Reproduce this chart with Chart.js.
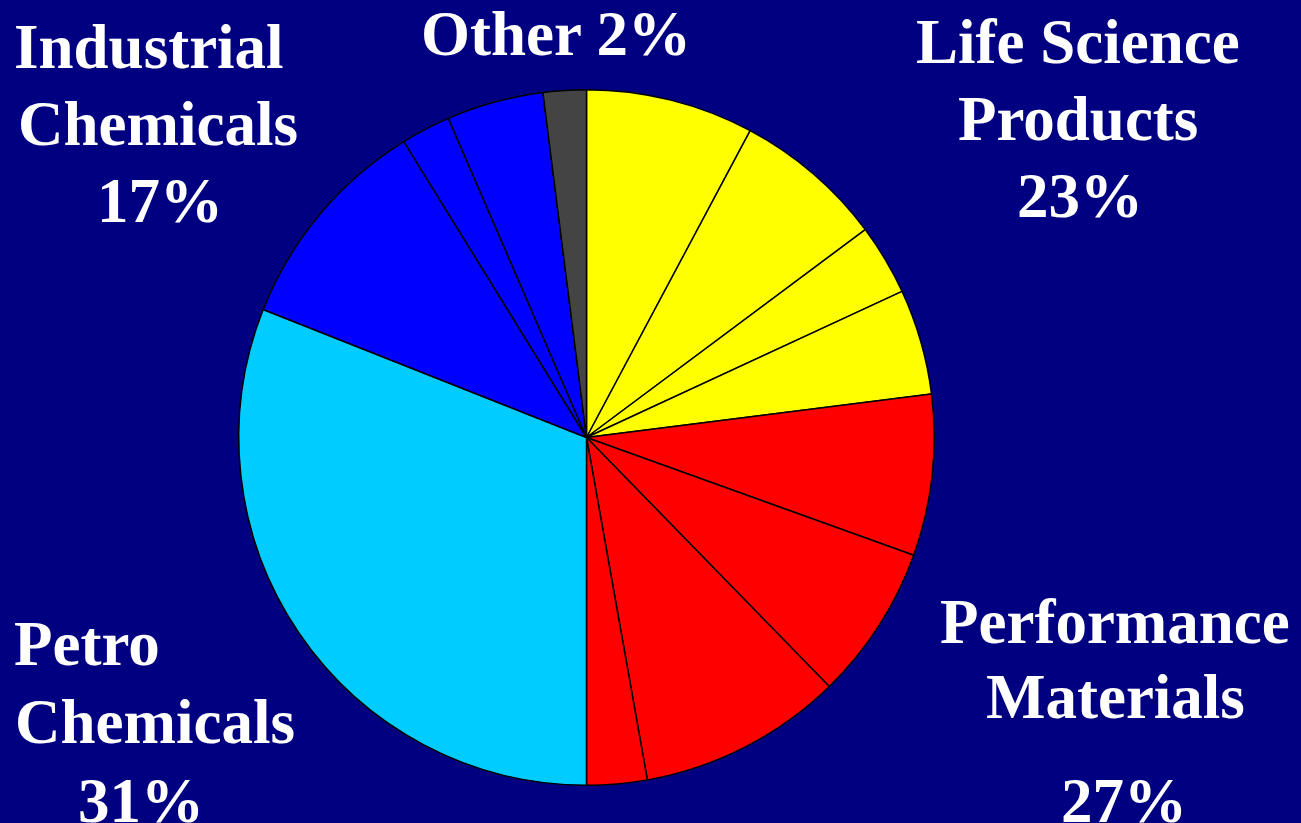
<!DOCTYPE html>
<html>
<head>
<meta charset="utf-8">
<script src="https://cdn.jsdelivr.net/npm/chart.js@4/dist/chart.umd.min.js"></script>
<style>
  body { margin: 0; background: #000080; }
  #wrap { position: relative; width: 1301px; height: 823px; overflow: hidden; }
  #pie { position: absolute; left: 0; top: 0; }
  #labels { position: absolute; left: 0; top: 0; }
  #labels text { font-family: "Liberation Serif", "Times New Roman", serif; font-weight: bold; font-size: 63px; fill: #fff; }
</style>
</head>
<body>
<div id="wrap">
  <canvas id="pie" width="1301" height="823"></canvas>
  <svg id="labels" width="1301" height="823"></svg>
</div>
<script>
// slices clockwise from 12 o'clock (percent)
var sliceGroups = ['Life Science', 'Life Science', 'Life Science', 'Life Science',
  'Performance', 'Performance', 'Performance', 'Performance',
  'Petro', 'Industrial', 'Industrial', 'Industrial', 'Other'];
var sliceValues = [7.8, 7.0, 3.3, 4.9, 7.5, 7.2, 9.5, 2.8, 31.0, 10.2, 2.3, 4.5, 2.0];

var groupNames = ['Life Science', 'Performance', 'Petro', 'Industrial', 'Other'];
var groupColors = ['#ffff00', '#ff0000', '#00ccff', '#0000ff', '#444444'];

// label lines: text, left x, baseline y
var labelLines = [
  ['Industrial', 14, 68], ['Chemicals', 18, 145], ['17%', 97, 222],
  ['Other 2%', 421, 55],
  ['Life Science', 916, 63], ['Products', 958, 140], ['23%', 1017, 217],
  ['Performance', 940, 643], ['Materials', 986, 718], ['27%', 1061, 822],
  ['Petro', 14, 665], ['Chemicals', 15, 743], ['31%', 78, 822]
];

function sliceColors() {
  var out = [];
  for (var i = 0; i < sliceGroups.length; i++) {
    out.push(groupColors[groupNames.indexOf(sliceGroups[i])]);
  }
  return out;
}

function drawLabels() {
  var svg = document.getElementById('labels');
  var ns = 'http://www.w3.org/2000/svg';
  for (var i = 0; i < labelLines.length; i++) {
    var t = document.createElementNS(ns, 'text');
    t.setAttribute('x', labelLines[i][1]);
    t.setAttribute('y', labelLines[i][2]);
    t.textContent = labelLines[i][0];
    svg.appendChild(t);
  }
}

var chart = new Chart(document.getElementById('pie'), {
  type: 'pie',
  data: {
    labels: sliceGroups,
    datasets: [{
      data: sliceValues,
      backgroundColor: sliceColors(),
      borderColor: '#000000',
      borderWidth: 1.5
    }]
  },
  options: {
    responsive: false,
    animation: false,
    events: [],
    layout: { padding: { left: 238, right: 366, top: 89, bottom: 37 } },
    plugins: {
      legend: { display: false },
      tooltip: { enabled: false }
    }
  }
});

drawLabels();
</script>
</body>
</html>
